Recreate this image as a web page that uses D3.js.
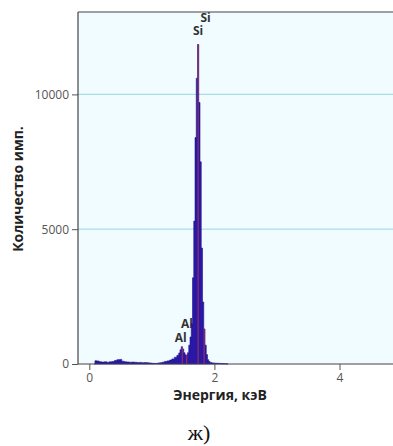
<!DOCTYPE html>
<html><head><meta charset="utf-8">
<script src="https://cdn.jsdelivr.net/npm/d3@7"></script>
<style>body{margin:0;background:#fff}svg{display:block}</style>
</head><body>
<svg id="c" width="393" height="446"></svg>
<script>
// Spectrum: energy (keV) and counts
const energies = [0.08,0.10,0.14,0.18,0.22,0.26,0.30,0.34,0.38,0.42,0.46,0.50,0.54,0.58,0.62,0.66,0.70,0.74,0.78,0.82,0.86,0.90,0.94,0.98,1.02,1.06,1.10,1.14,1.18,1.22,1.26,1.30,1.34,1.38,1.42,1.44,1.46,1.48,1.50,1.52,1.54,1.56,1.58,1.60,1.62,1.64,1.66,1.68,1.70,1.72,1.74,1.76,1.78,1.80,1.82,1.84,1.86,1.88,1.90,1.92,1.94,1.98,2.02,2.06,2.10,2.14,2.18,2.22];
const counts   = [0,120,110,80,70,80,65,80,90,130,160,170,100,80,75,65,70,65,55,60,50,55,45,35,25,20,30,45,65,95,115,145,190,250,320,410,530,640,560,420,340,330,420,700,1000,1500,3200,5300,8400,10600,11850,9700,7500,4300,2300,1300,700,350,160,90,60,40,30,25,20,15,10,0];
const peakLines = [1.487,1.557,1.740,1.836];
const peakLabels = [
  {text:"Si", e:1.86, v:12700},
  {text:"Si", e:1.74, v:12200},
  {text:"Al", e:1.56, v:1330},
  {text:"Al", e:1.46, v:800}
];
const yTicks = [0,5000,10000];
const xTicks = [0,2,4];
const xTitle = "Энергия, кэВ";
const yTitle = "Количество имп.";
const caption = "ж)";

const svg = d3.select("#c");
const L = 78, R = 393, T = 12, B = 364;
const x = d3.scaleLinear().domain([0, 2]).range([89.3, 214.4]);
const y = d3.scaleLinear().domain([0, 5000]).range([B, B - 134.8]);

svg.append("rect").attr("x", L).attr("y", T).attr("width", R - L).attr("height", B - T).attr("fill", "#f0fcff");

// gridlines
svg.append("g").selectAll("line").data(yTicks.filter(d => d > 0)).join("line")
  .attr("x1", L).attr("x2", R).attr("y1", d => y(d)).attr("y2", d => y(d))
  .attr("stroke", "#a9dbe8").attr("stroke-width", 1.3);

// labels (drawn under spectrum)
svg.append("g").selectAll("text").data(peakLabels).join("text")
  .attr("x", d => x(d.e)).attr("y", d => y(d.v))
  .attr("text-anchor", "middle")
  .attr("font-family", "'Open Sans', sans-serif").attr("font-weight", "bold")
  .attr("font-size", 12).attr("fill", "#333")
  .text(d => d.text);

const data = energies.map((e, i) => ({e, v: counts[i]}));
const area = d3.area().curve(d3.curveStep).x(d => x(d.e)).y0(B).y1(d => y(d.v));
svg.append("path").datum(data).attr("d", area).attr("fill", "#2a17a6").attr("stroke", "#201490").attr("stroke-width", 0.6);

// peak marker lines up to spectrum height
const nearest = e => {
  let best = data[0];
  data.forEach(d => { if (Math.abs(d.e - e) < Math.abs(best.e - e)) best = d; });
  return best.v;
};
svg.append("g").selectAll("line").data(peakLines).join("line")
  .attr("x1", d => x(d)).attr("x2", d => x(d))
  .attr("y1", B).attr("y2", d => y(nearest(d)))
  .attr("stroke", "#a8344f").attr("stroke-width", 1.2).attr("opacity", 0.85);

// axes
svg.append("line").attr("x1", L).attr("x2", R).attr("y1", T).attr("y2", T).attr("stroke", "#444").attr("stroke-width", 1.2);
const yAxis = svg.append("g").attr("transform", `translate(${L},0)`)
  .call(d3.axisLeft(y).tickValues(yTicks).tickFormat(d3.format("d")).tickSize(6).tickPadding(3).tickSizeOuter(0));
yAxis.select(".domain").attr("d", `M0,${T}V${B}`);
const xAxis = svg.append("g").attr("transform", `translate(0,${B})`)
  .call(d3.axisBottom(x).tickValues(xTicks).tickFormat(d3.format("d")).tickSize(6).tickPadding(3).tickSizeOuter(0));
xAxis.select(".domain").attr("d", `M${L},0H${R}`);
[yAxis, xAxis].forEach(a => {
  a.selectAll(".domain").attr("stroke", "#444").attr("stroke-width", 1.2);
  a.selectAll(".tick line").attr("stroke", "#555");
  a.selectAll("text").attr("font-family", "'Open Sans', sans-serif").attr("font-size", 12).attr("fill", "#555");
});

svg.append("text").attr("x", 220).attr("y", 400).attr("text-anchor", "middle")
  .attr("font-family", "'Open Sans', sans-serif").attr("font-weight", "bold").attr("font-size", 14).attr("fill", "#222")
  .text(xTitle);
svg.append("text").attr("transform", "translate(23,189) rotate(-90)").attr("text-anchor", "middle")
  .attr("font-family", "'Open Sans', sans-serif").attr("font-weight", "bold").attr("font-size", 14).attr("fill", "#222")
  .text(yTitle);
svg.append("text").attr("x", 199).attr("y", 440).attr("text-anchor", "middle")
  .attr("font-family", "'Liberation Serif', serif").attr("font-size", 22).attr("fill", "#111")
  .text(caption);
</script>
</body></html>
